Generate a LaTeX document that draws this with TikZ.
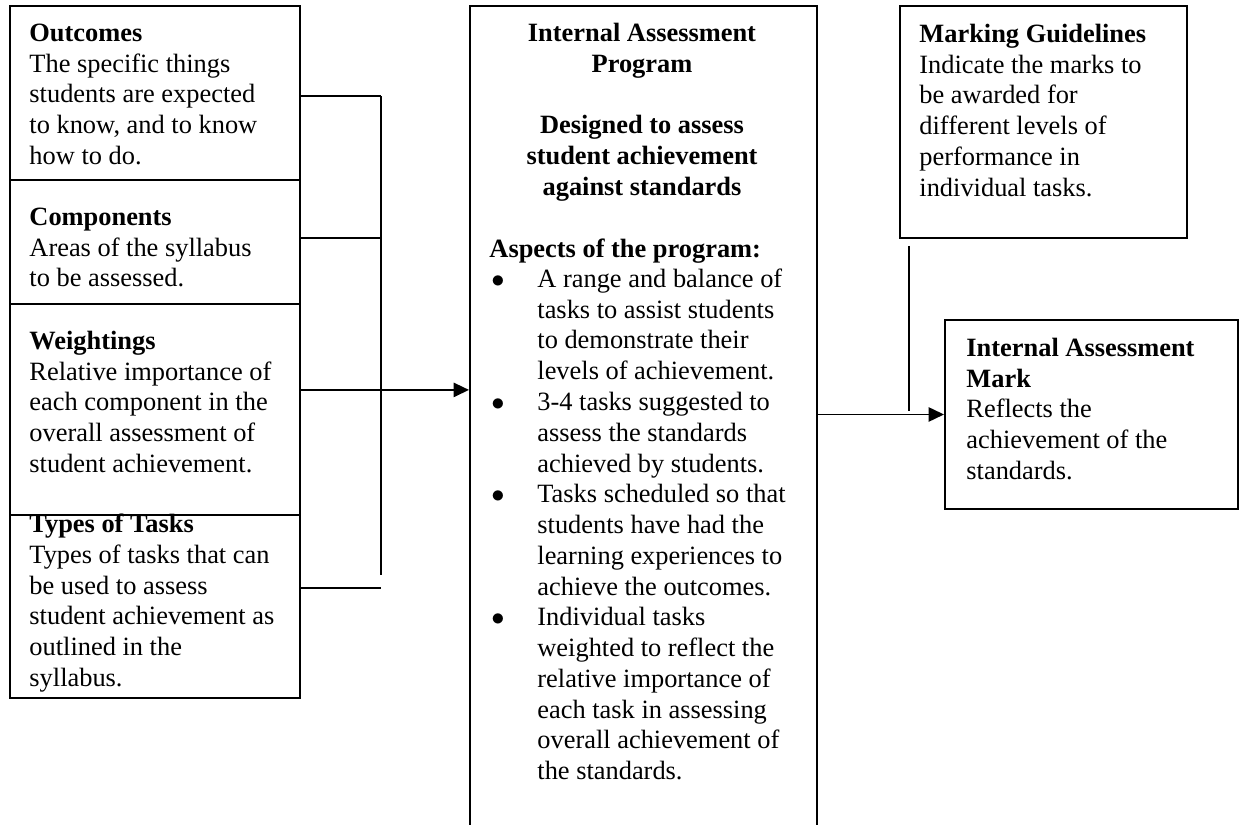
\documentclass[tikz,border=0pt]{standalone}
\usepackage{fontspec}
\setmainfont{Liberation Serif}
\usetikzlibrary{arrows.meta}

\begin{document}
\begin{tikzpicture}[x=0.4545pt, y=-0.4545pt,
    box/.style={draw, line width=0.9pt, anchor=north west, inner sep=0pt, minimum width=131.8pt},
    txt/.style={anchor=north west, inner sep=0pt, align=left, font=\fontsize{12}{13.98}\selectfont, execute at begin node=\strut},
    head/.style={txt, font=\fontsize{12}{13.98}\selectfont\bfseries},
    conn/.style={line width=0.8pt},
    arr/.style={line width=0.8pt, -{Triangle[length=7pt, width=6.5pt]}}]
    \useasboundingbox (0, 0) rectangle (1239, 825);
    \clip (0, 0) rectangle (1239, 825);

    % left column
    \node[box, minimum height=79.1pt] (outcomes) at (9, 5) {};
    \node[box, minimum height=56.4pt] (components) at (9, 179) {};
    \node[box, minimum height=95.9pt] (weightings) at (9, 303) {};
    \node[box, minimum height=83.2pt] (tasks) at (9, 514) {};

    \node[txt] (outcomestxt) at (29, 23.5) {\textbf{Outcomes}\\The specific things\\students are expected\\to know, and to know\\how to do.};
    \node[txt] (componentstxt) at (29, 207.5) {\textbf{Components}\\Areas of the syllabus\\to be assessed.};
    \node[txt] (weightingstxt) at (29, 330.5) {\textbf{Weightings}\\Relative importance of\\each component in the\\overall assessment of\\student achievement.};
    \node[txt] (taskstxt) at (29, 513.5) {\textbf{Types of Tasks}\\Types of tasks that can\\be used to assess\\student achievement as\\outlined in the\\syllabus.};

    % program
    \node[box, minimum width=157.7pt, minimum height=382pt] (program) at (469, 5) {};
    \node[head, anchor=north, align=center] (programtitle) at (642, 22.5) {Internal Assessment\\Program\\[13.98pt]Designed to assess\\student achievement\\against standards};
    \node[head] (aspects) at (489, 235.5) {Aspects of the program:};
    \node[anchor=north west, inner sep=0pt, font=\fontsize{12}{13.98}\selectfont] (aspectlist) at (491, 265.5) {%
        \begin{tabular}[t]{@{}p{20.9pt}@{}l@{}}
        $\bullet$ & A range and balance of\\
        & tasks to assist students\\
        & to demonstrate their\\
        & levels of achievement.\\
        $\bullet$ & 3-4 tasks suggested to\\
        & assess the standards\\
        & achieved by students.\\
        $\bullet$ & Tasks scheduled so that\\
        & students have had the\\
        & learning experiences to\\
        & achieve the outcomes.\\
        $\bullet$ & Individual tasks\\
        & weighted to reflect the\\
        & relative importance of\\
        & each task in assessing\\
        & overall achievement of\\
        & the standards.
        \end{tabular}};

    % right column
    \node[box, minimum width=130.4pt, minimum height=105.4pt] (guidelines) at (899, 5) {};
    \node[txt] (guidelinestxt) at (919, 23.5) {\textbf{Marking Guidelines}\\Indicate the marks to\\be awarded for\\different levels of\\performance in\\individual tasks.};
    \node[box, minimum width=133.2pt, minimum height=85.9pt] (mark) at (944, 319) {};
    \node[txt] (marktxt) at (966, 337.5) {\textbf{Internal Assessment}\\\textbf{Mark}\\Reflects the\\achievement of the\\standards.};

    % connectors
    \coordinate (bracket top) at (381, 96);
    \coordinate (bracket bottom) at (381, 575);
    \draw[conn] ([yshift=-1.4pt]outcomes.east) -- ([yshift=-1.4pt]outcomes.east -| bracket top);
    \draw[conn] ([yshift=1.8pt]components.east) -- ([yshift=1.8pt]components.east -| bracket top);
    \draw[conn] ([yshift=8.4pt]tasks.east) -- ([yshift=8.4pt]tasks.east -| bracket top);
    \draw[conn] (bracket top) -- (bracket bottom);
    \draw[arr] ([yshift=8.9pt]weightings.east) -- ([yshift=8.9pt]weightings.east -| program.west);
    \draw[arr] (program.east |- mark.west) -- (mark.west);
    \draw[conn] ([xshift=4.5pt, yshift=-3.2pt]guidelines.south west) -- ([xshift=4.5pt, yshift=1.5pt]guidelines.south west |- mark.west);
\end{tikzpicture}
\end{document}
